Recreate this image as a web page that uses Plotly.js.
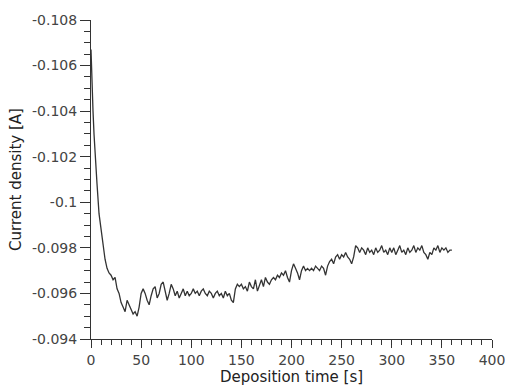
<!DOCTYPE html>
<html>
<head>
<meta charset="utf-8">
<script src="https://cdn.plot.ly/plotly-3.0.1.min.js"></script>
<style>html,body{margin:0;padding:0;background:#fff;}#chart{width:505px;height:390px;}</style>
</head>
<body>
<div id="chart"></div>
<script>
var timeS = [0,1,2,3,4,6,8,10,12,14,16,18,20,22,24,26,28,30,32,34,36,38,40,42,44,46,48,50,
52,54,56,58,60,62,64,66,68,70,72,74,76,78,80,82,84,86,88,90,92,94,96,98,100,
102,104,106,108,110,112,114,116,118,120,122,124,126,128,130,132,134,136,138,140,
142,144,146,148,150,152,154,156,158,160,162,164,166,168,170,172,174,176,178,180,
182,184,186,188,190,192,194,196,198,200,202,204,206,208,210,212,214,216,218,220,
222,224,226,228,230,232,234,236,238,240,242,244,246,248,250,252,254,256,258,260,
262,264,266,268,270,272,274,276,278,280,282,284,286,288,290,292,294,296,298,300,
302,304,306,308,310,312,314,316,318,320,322,324,326,328,330,332,334,336,338,340,
342,344,346,348,350,352,354,356,358,360];
var currentA = [-0.1067,-0.1050,-0.1040,-0.1030,-0.1024,-0.1008,-0.0995,-0.0988,-0.0980,-0.0975,-0.0971,-0.0969,
-0.0968,-0.0966,-0.0967,-0.0962,-0.0960,-0.0956,-0.0954,-0.0952,-0.0957,-0.0955,-0.0953,-0.0951,-0.0952,-0.0950,-0.0954,-0.0960,
-0.0962,-0.0960,-0.0957,-0.0955,-0.0959,-0.0962,-0.0963,-0.0958,-0.0960,-0.0964,-0.0965,-0.0961,-0.0957,-0.0960,-0.0964,-0.0962,-0.0959,-0.0961,-0.0958,-0.0960,-0.0962,-0.0959,-0.0961,-0.0959,-0.0960,
-0.0962,-0.0960,-0.0961,-0.0959,-0.0961,-0.0962,-0.0960,-0.0959,-0.0961,-0.0960,-0.0958,-0.0960,-0.0961,-0.0959,-0.0960,-0.0958,-0.0961,-0.0959,-0.0960,-0.0957,
-0.0956,-0.0962,-0.0964,-0.0963,-0.0964,-0.0962,-0.0963,-0.0961,-0.0965,-0.0963,-0.0962,-0.0966,-0.0961,-0.0964,-0.0966,-0.0963,-0.0967,-0.0965,-0.0964,-0.0966,
-0.0967,-0.0966,-0.0968,-0.0967,-0.0969,-0.0968,-0.0970,-0.0967,-0.0965,-0.0970,-0.0973,-0.0971,-0.0969,-0.0966,-0.0970,-0.0972,-0.0970,-0.0971,-0.0970,-0.0971,
-0.0970,-0.0972,-0.0971,-0.0970,-0.0972,-0.0971,-0.0968,-0.0972,-0.0974,-0.0975,-0.0973,-0.0976,-0.0977,-0.0975,-0.0977,-0.0976,-0.0978,-0.0976,-0.0975,-0.0973,
-0.0976,-0.0981,-0.0980,-0.0978,-0.0980,-0.0979,-0.0977,-0.0980,-0.0978,-0.0979,-0.0977,-0.0980,-0.0978,-0.0979,-0.0981,-0.0978,-0.0979,-0.0977,-0.0980,-0.0978,
-0.0980,-0.0977,-0.0979,-0.0981,-0.0978,-0.0979,-0.0977,-0.0980,-0.0978,-0.0979,-0.0981,-0.0978,-0.0980,-0.0979,-0.0981,-0.0978,-0.0977,-0.0975,-0.0978,-0.0977,
-0.0980,-0.0979,-0.0981,-0.0978,-0.0980,-0.0979,-0.0980,-0.0978,-0.0979,-0.0979];
var yTickVals = [-0.108,-0.106,-0.104,-0.102,-0.1,-0.098,-0.096,-0.094];
var yTickText = ["-0.108","-0.106","-0.104","-0.102","-0.1","-0.098","-0.096","-0.094"];
var xTickVals = [0,50,100,150,200,250,300,350,400];

var FONT = 'DejaVu Sans, Verdana, sans-serif';
Plotly.newPlot('chart', [{
  x: timeS, y: currentA, type: 'scatter', mode: 'lines',
  line: {color: '#333333', width: 1.3}, hoverinfo: 'skip'
}], {
  width: 505, height: 390,
  margin: {l: 91, r: 13, t: 20, b: 51, pad: 0},
  paper_bgcolor: '#fff', plot_bgcolor: '#fff',
  showlegend: false,
  font: {family: FONT, size: 14, color: '#222'},
  xaxis: {
    range: [0, 400], tickvals: xTickVals, ticks: 'outside', ticklen: 8, tickwidth: 1, tickcolor: '#333',
    ticklabeloverflow: 'allow',
    minor: {dtick: 10, ticks: 'outside', ticklen: 5, tickcolor: '#333', tickwidth: 1, showgrid: false},
    showline: true, linecolor: '#333', linewidth: 1, showgrid: false, zeroline: false,
    tickfont: {family: FONT, size: 14, color: '#444'},
    title: {text: 'Deposition time [s]', font: {family: FONT, size: 15, color: '#222'}, standoff: 4}
  },
  yaxis: {
    range: [-0.094, -0.108], tickvals: yTickVals, ticktext: yTickText, ticks: 'outside', ticklen: 10, tickwidth: 1, tickcolor: '#333',
    minor: {dtick: 0.0005, ticks: 'outside', ticklen: 6, tickcolor: '#333', tickwidth: 1, showgrid: false},
    showline: true, linecolor: '#333', linewidth: 1, showgrid: false, zeroline: false,
    tickfont: {family: FONT, size: 14, color: '#444'},
    title: {text: 'Current density [A]', font: {family: FONT, size: 15, color: '#222'}, standoff: 6}
  }
}, {staticPlot: true});
</script>
</body>
</html>
